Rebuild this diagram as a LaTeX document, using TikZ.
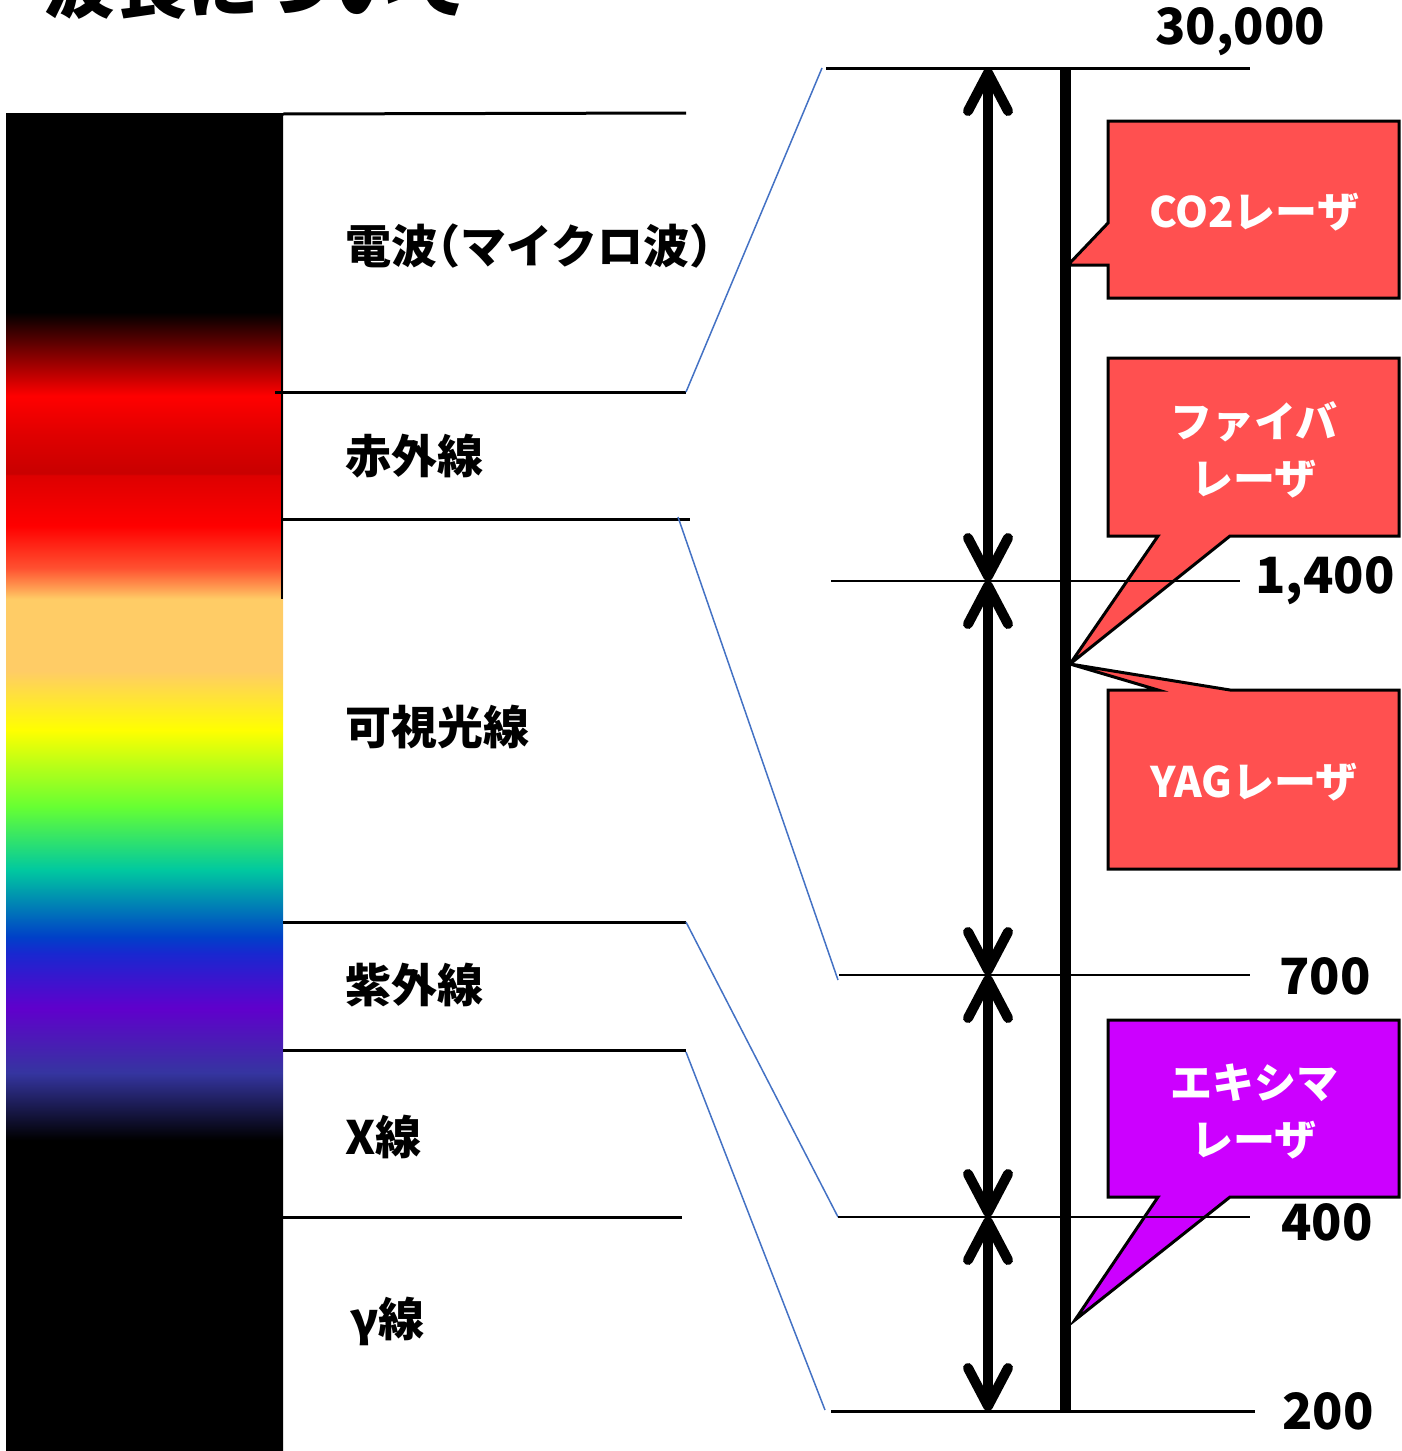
\documentclass[tikz,border=0pt]{standalone}
\usepackage{fontspec}
\usetikzlibrary{arrows.meta}
\newfontfamily\jp{Noto Sans CJK JP}
\definecolor{calloutred}{HTML}{FF5050}
\definecolor{calloutpurple}{HTML}{CC00FF}
\definecolor{linkblue}{HTML}{4472C4}
\definecolor{spA}{HTML}{3535A0}
\definecolor{spB}{HTML}{6000CC}
\definecolor{spC}{HTML}{1828D0}
\definecolor{spD}{HTML}{0040C8}
\definecolor{spE}{HTML}{00C8A0}
\definecolor{spF}{HTML}{66FF33}
\definecolor{spG}{HTML}{FFFF00}
\definecolor{spH}{HTML}{FFCC66}
\definecolor{spI}{HTML}{FF9950}
\definecolor{spJ}{HTML}{FF5030}
\definecolor{spK}{HTML}{FF0000}
\definecolor{spL}{HTML}{DD0000}
\definecolor{spM}{HTML}{C80000}
\definecolor{spN}{HTML}{E00000}
\definecolor{spO}{HTML}{800000}
\pgfdeclareverticalshading{spectrum}{100bp}{color(0bp)=(black); color(25bp)=(black); color(36.62bp)=(black); color(39.13bp)=(spA); color(41.55bp)=(spB); color(43.61bp)=(spC); color(44.21bp)=(spD); color(46.71bp)=(spE); color(49.07bp)=(spF); color(51.94bp)=(spG); color(54.15bp)=(spH); color(56.84bp)=(spH); color(57.29bp)=(spI); color(58.00bp)=(spJ); color(59.57bp)=(spK); color(61.47bp)=(spL); color(61.51bp)=(spM); color(63.00bp)=(spN); color(64.42bp)=(spK); color(65.99bp)=(spO); color(67.56bp)=(black); color(75bp)=(black); color(100bp)=(black)}
\tikzset{
  lbl/.style={font=\jp\bfseries\fontsize{46}{50}\selectfont, anchor=west, inner sep=0pt},
  num/.style={font=\jp\bfseries\fontsize{50}{56}\selectfont, inner sep=0pt},
  ctext/.style={font=\jp\bfseries\fontsize{42}{57}\selectfont, text=white, align=center, inner sep=0pt},
  bandline/.style={line width=3pt},
  scaleline/.style={line width=2.5pt},
  bluelink/.style={linkblue, line width=1.5pt},
  tipbarb/.tip={Straight Barb[length=38pt, width=40pt, round]},
  dimarrow/.style={line width=10pt, tipbarb-tipbarb},
  callout/.style={draw=black, line width=3pt, line join=miter},
}
\begin{document}
\begin{tikzpicture}[x=1pt, y=-1pt]
\useasboundingbox (0,0) rectangle (1401,1451);
\clip (0,0) rectangle (1401,1451);
% title (cut off at top)
\node[anchor=base west, inner sep=0pt, font=\jp\bfseries\fontsize{72}{80}\selectfont] (title) at (43,12) {波長について};
% spectrum bar
\shade[shading=spectrum] (6,113) rectangle (283,1451);
\draw[line width=1.5pt] (282,113) -- (282,599);
% band boundaries
\coordinate (b0l) at (283,114); \coordinate (b0r) at (686,113);
\coordinate (b1l) at (275,392); \coordinate (b1r) at (686,392);
\coordinate (b2l) at (283,519); \coordinate (b2r) at (690,519);
\coordinate (b3l) at (283,922); \coordinate (b3r) at (686,922);
\coordinate (b4l) at (283,1050); \coordinate (b4r) at (686,1050);
\coordinate (b5l) at (283,1217); \coordinate (b5r) at (682,1217);
\foreach \i in {0,...,5} \draw[bandline] (b\i l) -- (b\i r);
% labels
\node[lbl] (radio) at (345,246) {電波\addfontfeatures{RawFeature=+halt}（マイクロ波）};
\node[lbl] (ir) at (345,456) {赤外線};
\node[lbl] (vis) at (345,727) {可視光線};
\node[lbl] (uv) at (345,985) {紫外線};
\node[lbl] (xray) at (345,1137) {X線};
\node[lbl] (gamma) at (350,1321) {γ線};
% scale lines
\coordinate (s0l) at (826,68); \coordinate (s0r) at (1250,68);
\coordinate (s1l) at (831,581); \coordinate (s1r) at (1240,581);
\coordinate (s2l) at (839,975); \coordinate (s2r) at (1250,975);
\coordinate (s3l) at (838,1217); \coordinate (s3r) at (1250,1217);
\coordinate (s4l) at (831,1411); \coordinate (s4r) at (1255,1411);
% blue links
\draw[bluelink] (b1r) -- (822,68);
\draw[bluelink] (678,517) -- (838,980);
\draw[bluelink] (b3r) -- (s3l);
\draw[bluelink] (686,1052) -- (825,1410);
% vertical bar
\coordinate (v0) at (1065,68); \coordinate (v1) at (1065,1411);
\draw[line width=11pt] (v0) -- (v1);
% dimension arrows
\coordinate (a0) at (988,68);
\coordinate (a1) at (988,581);
\coordinate (a2) at (988,975);
\coordinate (a3) at (988,1217);
\coordinate (a4) at (988,1411);
\draw[dimarrow] (a0) -- (a1);
\draw[dimarrow] (a1) -- (a2);
\draw[dimarrow] (a2) -- (a3);
\draw[dimarrow] (a3) -- (a4);
% callouts
\draw[callout, fill=calloutred] (1108,121) -- (1108,223) -- (1068,265) -- (1108,265) -- (1108,298) -- (1399,298) -- (1399,121) -- cycle;
\node[ctext] (co2) at (1254,212) {CO2レーザ};
\draw[callout, fill=calloutred] (1108,358) -- (1108,536) -- (1158,536) -- (1070,664) -- (1230,536) -- (1399,536) -- (1399,358) -- cycle;
\node[ctext] (fiber) at (1254,450) {ファイバ\\レーザ};
\draw[callout, fill=calloutred] (1108,690) -- (1158,690) -- (1070,664) -- (1230,690) -- (1399,690) -- (1399,869) -- (1108,869) -- cycle;
\node[ctext] (yag) at (1254,782) {YAGレーザ};
\draw[callout, fill=calloutpurple] (1108,1020) -- (1108,1197) -- (1158,1197) -- (1075,1320) -- (1230,1197) -- (1399,1197) -- (1399,1020) -- cycle;
\node[ctext] (excimer) at (1254,1111) {エキシマ\\レーザ};
% scale lines on top
\draw[line width=3pt] (s0l) -- (s0r);
\draw[scaleline] (s1l) -- (s1r);
\draw[scaleline] (s2l) -- (s2r);
\draw[scaleline] (s3l) -- (s3r);
\draw[line width=3pt] (s4l) -- (s4r);
% numbers
\node[num] (n30000) at (1240,32) {30,000};
\node[num] (n1400) at (1325,581) {1,400};
\node[num] (n700) at (1325,976) {700};
\node[num] (n400) at (1327,1222) {400};
\node[num] (n200) at (1328,1411) {200};
\end{tikzpicture}
\end{document}
